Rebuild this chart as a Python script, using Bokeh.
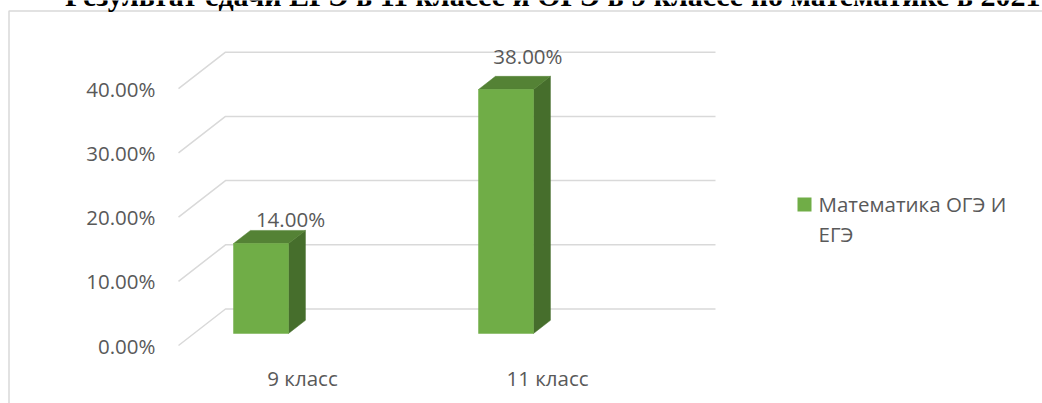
from bokeh.plotting import figure
from bokeh.models import Range1d
from bokeh.core.properties import value
from bokeh.embed import file_html
from bokeh.resources import INLINE

# ---------------- data ----------------
categories = ["9 класс", "11 класс"]
values = [14.0, 38.0]
value_labels = ["14.00%", "38.00%"]
y_ticks = [0, 10, 20, 30, 40]
y_tick_labels = ["0.00%", "10.00%", "20.00%", "30.00%", "40.00%"]
series_name_lines = ["Математика ОГЭ И", "ЕГЭ"]
title_text = "Результат сдачи ЕГЭ в 11 классе и ОГЭ в 9 классе по математике в 2021"

# ---------------- layout constants (pixels) ----------------
W, H = 1042, 403
ZERO_Y = 345.0                # canvas y of 0 % on the front plane
PX_PCT = 6.42                 # pixels per percent
CAT0_X = 300.5                # canvas x of first category centre (front plane)
PX_CAT = 245.0                # pixels per category
DX = 47.0 / PX_CAT            # full depth shift, x data units
DY = 36.5 / PX_PCT            # full depth shift, y data units
T0, T1 = 0.33, 0.69           # bar depth (front, back) as fraction of floor depth
BAR_W = 55.0 / PX_CAT
BAR_OFF = -55.5 / PX_CAT      # bar offset from category centre
PERSP = 1.058                 # slight perspective growth used for data labels
PERSP_X = 0.969


def dx(px):
    return px / PX_CAT


def dy(px):
    return px / PX_PCT


def sx(cx):  # canvas x -> data x
    return (cx - CAT0_X) / PX_CAT


def sy(cy):  # canvas y -> data y
    return (ZERO_Y - cy) / PX_PCT


FONT = value("Open Sans")
TXT = "#595959"
GRID = "#d9d9d9"
FS = "20.5px"

p = figure(width=W, height=H, output_backend="svg", toolbar_location=None,
           x_range=Range1d(sx(0), sx(W)), y_range=Range1d(sy(H), sy(0)),
           min_border=0, min_border_left=0, min_border_right=0,
           min_border_top=0, min_border_bottom=0)
p.axis.visible = False
p.grid.visible = False
p.outline_line_color = None
p.background_fill_color = "white"
p.border_fill_color = "white"

n = len(categories)
x_left, x_right = -0.5, n - 0.5

# chart area border
p.multi_line(xs=[[sx(8.5), sx(8.5), sx(W + 10)]],
             ys=[[sy(H + 10), sy(10.5), sy(10.5)]],
             line_color=GRID, line_width=1.5)

# title (cropped at the top in the reference)
p.text(x=[sx(1040)], y=[sy(-5)], text=[title_text], text_align="right",
       text_baseline="alphabetic", text_font=value("Liberation Serif"),
       text_font_style="bold", text_font_size="30px", text_color="black")

# 3-D gridlines: side wall diagonal + back wall horizontal
gxs = [[x_left, x_left + DX, x_right + DX] for _ in y_ticks]
gys = [[v, v + DY, v + DY] for v in y_ticks]
p.multi_line(xs=gxs, ys=gys, line_color=GRID, line_width=1.5)

# y tick labels
p.text(x=[x_left - dx(23)] * len(y_ticks), y=y_ticks, text=y_tick_labels,
       text_align="right", text_baseline="middle", text_font=FONT,
       text_font_size=FS, text_color=TXT)

# bars
L0, R0, B0, T = [], [], [], []
side_xs, side_ys, top_xs, top_ys = [], [], [], []
d = T1 - T0
for i, v in enumerate(values):
    c = i + BAR_OFF + DX * T0
    l, r = c - BAR_W / 2, c + BAR_W / 2
    b = DY * T0
    t = v + DY * T0
    L0.append(l); R0.append(r); B0.append(b); T.append(t)
    side_xs.append([r, r + DX * d, r + DX * d, r])
    side_ys.append([b, b + DY * d, t + DY * d, t])
    top_xs.append([l, r, r + DX * d, l + DX * d])
    top_ys.append([t, t, t + DY * d, t + DY * d])

p.patches(xs=side_xs, ys=side_ys, fill_color="#466e2c", line_color="#466e2c", line_width=0.5)
p.patches(xs=top_xs, ys=top_ys, fill_color="#548235", line_color="#548235", line_width=0.5)
p.quad(left=L0, right=R0, bottom=B0, top=T, fill_color="#70ad47",
       line_color="#70ad47", line_width=0.5)

# value labels (above the bar tops, with a little perspective growth)
lab_x = [i * PERSP_X + BAR_OFF + DX * T0 + dx(29.5) for i in range(n)]
lab_y = [v * PERSP + DY * T1 + dy(6.7) for v in values]
p.text(x=lab_x, y=lab_y, text=value_labels, text_align="center",
       text_baseline="middle", text_font=FONT, text_font_size=FS, text_color=TXT)

# category labels
p.text(x=[i + dx(1.5) for i in range(n)], y=[sy(377)] * n, text=categories,
       text_align="center", text_baseline="middle", text_font=FONT,
       text_font_size=FS, text_color=TXT)

# legend
p.quad(left=[sx(797)], right=[sx(811)], top=[sy(197)], bottom=[sy(211)],
       fill_color="#70ad47", line_color=None)
p.text(x=[sx(818)] * len(series_name_lines),
       y=[sy(203), sy(233)], text=series_name_lines,
       text_align="left", text_baseline="middle", text_font=FONT,
       text_font_size=FS, text_color=TXT)

open("out.html", "w").write(file_html(p, INLINE))
